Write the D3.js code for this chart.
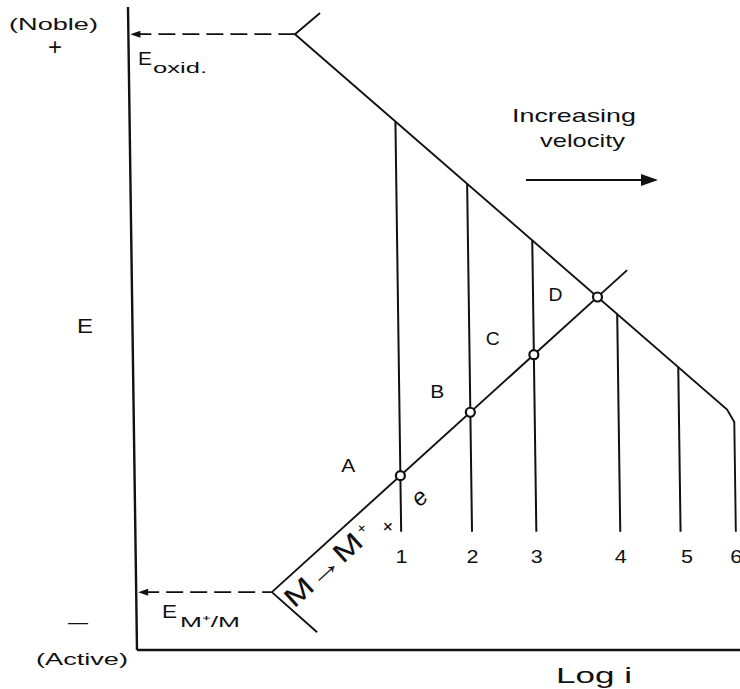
<!DOCTYPE html>
<html>
<head>
<meta charset="utf-8">
<script src="https://cdn.jsdelivr.net/npm/d3@7"></script>
<style>
  html, body { margin: 0; padding: 0; background: #fff; }
  svg { display: block; }
  text { font-family: "Liberation Sans", Arial, sans-serif; fill: #111; }
</style>
</head>
<body>
<svg id="chart" width="740" height="689"></svg>
<script>
// Evans diagram: effect of velocity on corrosion of an active metal
// x = log i (arbitrary units), y = E (arbitrary units, noble at top)

const velocities = [1, 2, 3, 4, 5, 6];
// limiting current (log i) reached at each velocity
const limitingLogI = [5.29, 6.70, 7.98, 9.65, 10.85, 11.95];
// lower end of the limiting-current verticals (E)
const limitBottomE = 2.39;

// cathodic (oxidiser reduction) branch: tafel line ending in the diffusion knee
const cathodicTafel = [[3.315, 12.45], [11.81, 4.86], [11.95, 4.61], [11.95, 2.39]];
const cathodicStub = [[3.315, 12.45], [3.82, 12.88]];
// anodic (metal dissolution) branch
const anodicTafel = [[2.70, 1.17], [9.86, 7.68]];
const anodicStub = [[2.70, 1.17], [3.59, 0.36]];

const Eoxid = 12.45, EmM = 1.17;
const pointNames = ["A", "B", "C", "D"];

const svg = d3.select("#chart");
const x = d3.scaleLinear().domain([0, 12]).range([137, 740]);
const y = d3.scaleLinear().domain([0, 13]).range([650, 7]);

// slight shear of the drawing
const k = 0.014;
const shear = `matrix(1,0,${k},1,${-k * 650},0)`;
const sx = (xv, py) => x(xv) + k * (py - 650);

const g = svg.append("g").attr("transform", shear);
const line = d3.line().x(d => x(d[0])).y(d => y(d[1]));

// E along the straight tafel segments
function cathE(li) {
  const [a, b] = cathodicTafel;
  return a[1] + (b[1] - a[1]) * (li - a[0]) / (b[0] - a[0]);
}
function anodE(li) {
  const [a, b] = anodicTafel;
  return a[1] + (b[1] - a[1]) * (li - a[0]) / (b[0] - a[0]);
}

// axes
g.append("line").attr("x1", x(0)).attr("x2", x(0)).attr("y1", y(13)).attr("y2", y(0))
  .attr("stroke", "#111").attr("stroke-width", 2.4);
g.append("line").attr("x1", x(0)).attr("x2", x(12)).attr("y1", y(0)).attr("y2", y(0))
  .attr("stroke", "#111").attr("stroke-width", 2.4);

// dashed reference potentials with arrows toward the E axis
[[Eoxid, cathodicTafel[0][0]], [EmM, anodicTafel[0][0]]].forEach(([e, li]) => {
  g.append("line").attr("x1", x(0) + 6).attr("x2", x(li)).attr("y1", y(e)).attr("y2", y(e))
    .attr("stroke", "#111").attr("stroke-width", 1.8).attr("stroke-dasharray", "17,7");
  g.append("path")
    .attr("d", `M${x(0) + 2},${y(e)} l10,-3.5 l0,7 z`)
    .attr("fill", "#111");
});

// cathodic & anodic branches
[cathodicTafel, cathodicStub, anodicTafel, anodicStub].forEach(pts => {
  g.append("path").attr("d", line(pts)).attr("fill", "none")
    .attr("stroke", "#111").attr("stroke-width", 1.9);
});

// limiting-current verticals (velocity 6 is part of the cathodic path)
limitingLogI.slice(0, 5).forEach(li => {
  g.append("line").attr("x1", x(li)).attr("x2", x(li))
    .attr("y1", y(cathE(li))).attr("y2", y(limitBottomE))
    .attr("stroke", "#111").attr("stroke-width", 2);
});

// corrosion points: anodic line meets limiting currents 1-3, then the tafel line
const dCross = (() => {
  const [c0, c1] = cathodicTafel, [a0, a1] = anodicTafel;
  const mc = (c1[1] - c0[1]) / (c1[0] - c0[0]), ma = (a1[1] - a0[1]) / (a1[0] - a0[0]);
  const li = (a0[1] - ma * a0[0] - c0[1] + mc * c0[0]) / (mc - ma);
  return [li, anodE(li)];
})();
const points = [
  [limitingLogI[0], anodE(limitingLogI[0])],
  [limitingLogI[1], anodE(limitingLogI[1])],
  [limitingLogI[2], anodE(limitingLogI[2])],
  dCross
];
g.selectAll("circle.pt").data(points).join("circle")
  .attr("class", "pt")
  .attr("cx", d => x(d[0])).attr("cy", d => y(d[1])).attr("r", 4.5)
  .attr("fill", "#fff").attr("stroke", "#111").attr("stroke-width", 2.2);

// ---- text ----
function label(txt, px, py, size, opts = {}) {
  const t = svg.append("text").attr("x", px).attr("y", py)
    .attr("font-size", size).text(txt);
  if (opts.anchor) t.attr("text-anchor", opts.anchor);
  if (opts.width) t.attr("textLength", opts.width).attr("lengthAdjust", "spacingAndGlyphs");
  return t;
}

label("(Noble)", 9, 30, 17, { width: 89 });
label("+", 55, 55, 24, { anchor: "middle" });
label("E", 77, 333, 20, { width: 16 });
label("\u2013", 68, 629, 20, { width: 20 });
label("(Active)", 36, 665, 17, { width: 92 });

label("E", 138, 65, 19, { width: 14 });
label("oxid.", 153, 73, 15, { width: 54 });
label("E", 162, 618, 19, { width: 15 });
label("M\u207A/M", 180, 627, 15, { width: 60 });

label("Increasing", 512, 122, 19, { width: 124 });
label("velocity", 540, 147, 19, { width: 85 });
svg.append("line").attr("x1", 526).attr("x2", 644).attr("y1", 180).attr("y2", 180)
  .attr("stroke", "#111").attr("stroke-width", 2);
svg.append("path").attr("d", "M641,174 L658,180 L641,186 Z").attr("fill", "#111");

// point labels
const labelOffsets = [[-52, -4], [-33, -14], [-41, -10], [-42, 4]];
points.forEach((p, i) => {
  const py = y(p[1]);
  label(pointNames[i], sx(p[0], py) + labelOffsets[i][0], py + labelOffsets[i][1], 19,
    { anchor: "middle", width: 14 });
});

// velocity numbers under the verticals
const numNudge = [0, 0, 0, 0, 6, 0];
velocities.forEach((v, i) => {
  label(String(v), sx(limitingLogI[i], 562) + numNudge[i], 563, 19, { anchor: "middle", width: 12 });
});

label("Log  i", 556, 683, 22, { width: 76 });

// reaction written along the anodic branch, parallel to it
const rg = svg.append("g").attr("transform", "translate(294,609) rotate(-42.4)");
rg.append("text").attr("x", 0).attr("y", 0).attr("font-size", 27)
  .attr("textLength", 96).attr("lengthAdjust", "spacingAndGlyphs").text("M\u2192M");
rg.append("text").attr("x", 100).attr("y", -9).attr("font-size", 15).text("+");
rg.append("text").attr("x", 119).attr("y", 9).attr("font-size", 20).text("+");
rg.append("text").attr("x", 161).attr("y", 10).attr("font-size", 24)
  .attr("font-style", "italic").text("e");
</script>
</body>
</html>
